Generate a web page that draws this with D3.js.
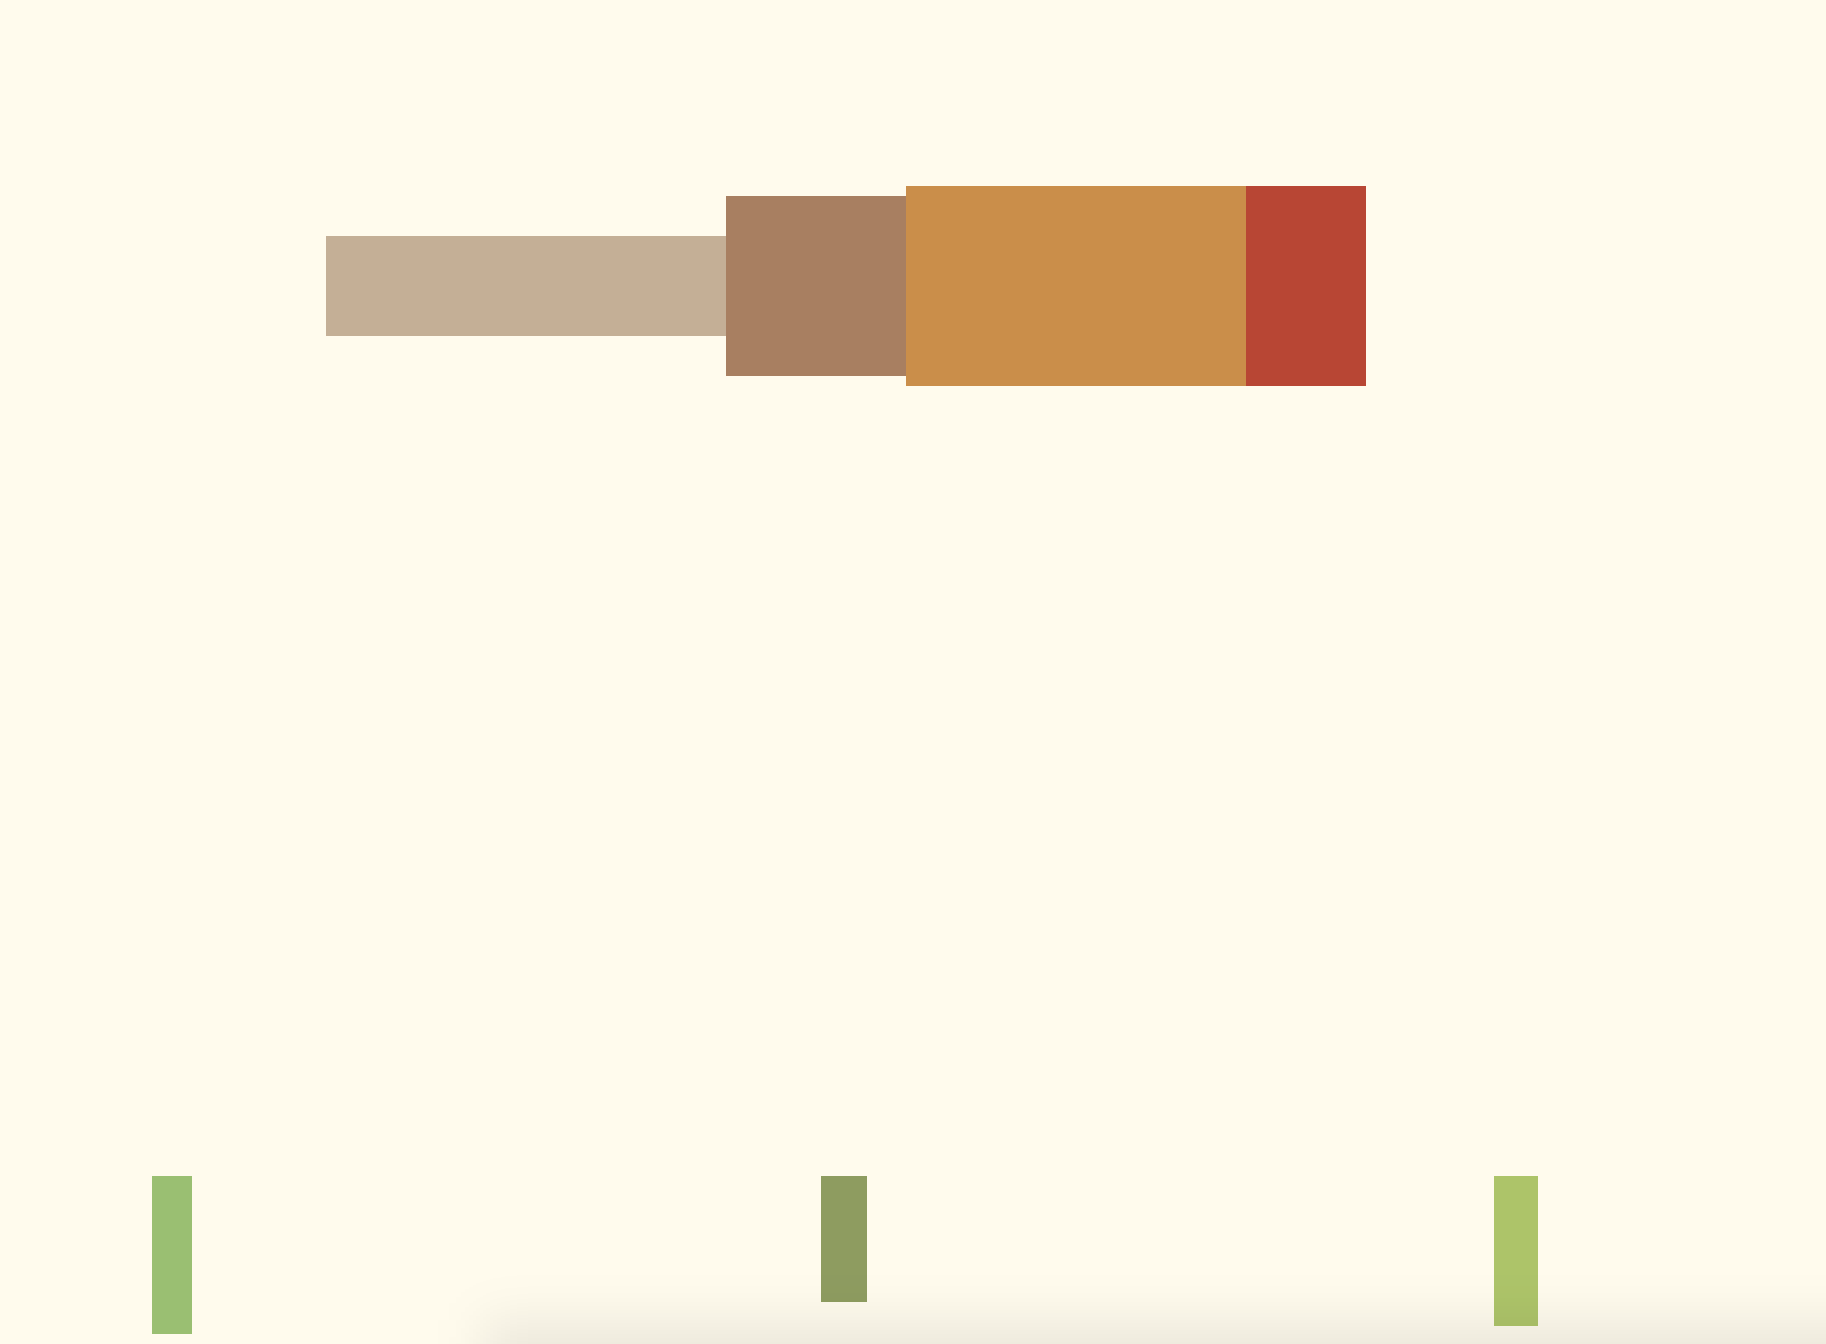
<!DOCTYPE html>
<html>
<head>
<meta charset="utf-8">
<script src="https://cdn.jsdelivr.net/npm/d3@7"></script>
<style>
  html, body { margin: 0; padding: 0; background: #fffbed; overflow: hidden; }
  svg { display: block; }
</style>
</head>
<body>
<svg id="chart" width="1826" height="1344"></svg>
<script>
// ---- data ----
const segmentNames = ["Segment A", "Segment B", "Segment C", "Segment D"];
const segmentShares = [40, 18, 34, 12];      // horizontal extent
const segmentMagnitudes = [5, 9, 10, 10];    // bar thickness
const segmentColors = ["#c4af96", "#a87f61", "#ca8e4a", "#b84634"];

const groupNames = ["Group 1", "Group 2", "Group 3"];
const groupValues = [79, 63, 75];            // bar heights
const groupWeights = [20, 23, 22];           // bar widths
const groupColors = ["#9abf72", "#8e9c60", "#adc469"];

// ---- drawing ----
const W = 1826, H = 1344;
const svg = d3.select("#chart");
svg.append("rect").attr("width", W).attr("height", H).attr("fill", "#fffbed");

// top variable-width strip
const total = d3.sum(segmentShares);
const x = d3.scaleLinear().domain([0, total]).range([326, 1366]);
const thick = d3.scaleLinear().domain([0, 10]).range([0, 200]);
const midY = 286;
const cum = d3.cumsum(segmentShares);
const segs = segmentNames.map((n, i) => ({
  name: n, start: cum[i] - segmentShares[i], end: cum[i],
  mag: segmentMagnitudes[i], color: segmentColors[i]
}));
svg.append("g").selectAll("rect").data(segs).join("rect")
  .attr("x", d => x(d.start))
  .attr("width", d => x(d.end) - x(d.start))
  .attr("y", d => midY - thick(d.mag) / 2)
  .attr("height", d => thick(d.mag))
  .attr("fill", d => d.color);

// bottom bars
const gx = d3.scalePoint().domain(groupNames).range([172, 1516]);
const gh = d3.scaleLinear().domain([0, 100]).range([0, 200]);
const gw = d3.scaleLinear().domain([0, 10]).range([0, 20]);
const topY = 1176;
const groups = groupNames.map((n, i) => ({ name: n, v: groupValues[i], w: groupWeights[i], color: groupColors[i] }));
svg.append("g").selectAll("rect").data(groups).join("rect")
  .attr("x", d => gx(d.name) - gw(d.w) / 2)
  .attr("width", d => gw(d.w))
  .attr("y", topY)
  .attr("height", d => gh(d.v))
  .attr("fill", d => d.color);

// soft shadow at bottom edge
const defs = svg.append("defs");
const f = defs.append("filter").attr("id", "soft")
  .attr("x", "-50%").attr("y", "-50%").attr("width", "200%").attr("height", "200%");
f.append("feGaussianBlur").attr("stdDeviation", 25);
svg.append("rect")
  .attr("x", 483).attr("y", 1320)
  .attr("width", 1600).attr("height", 300)
  .attr("fill", "#000").attr("fill-opacity", 0.075)
  .attr("filter", "url(#soft)");
</script>
</body>
</html>
